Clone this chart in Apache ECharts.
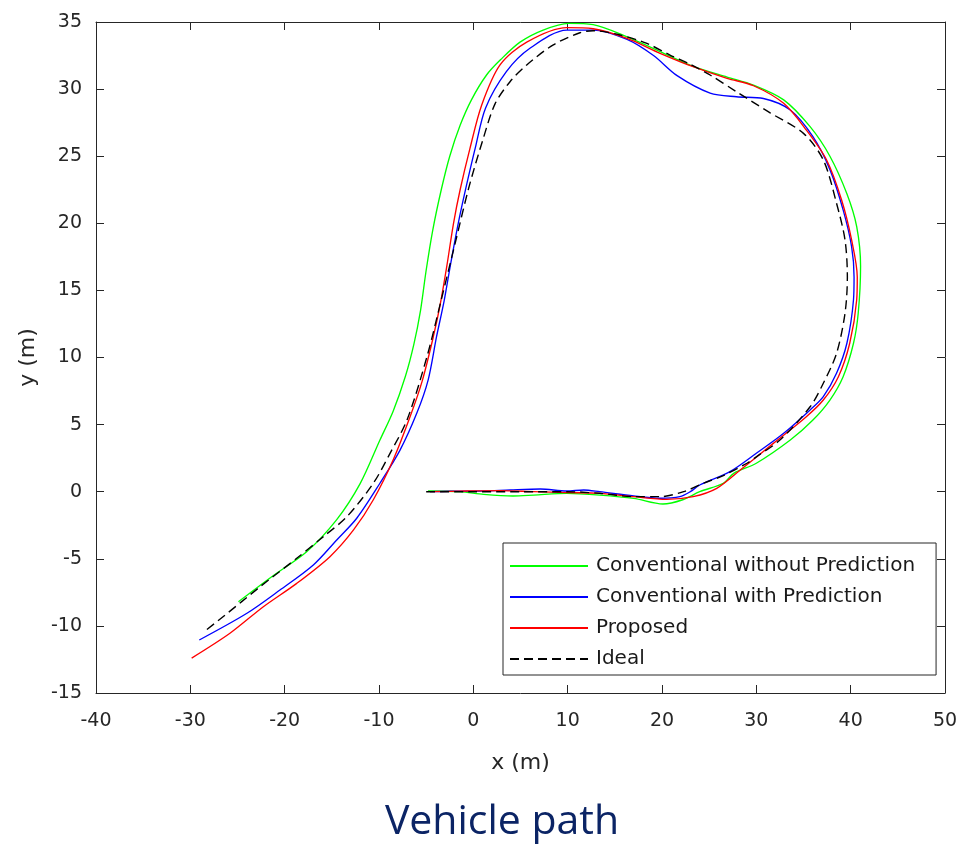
<!DOCTYPE html>
<html>
<head>
<meta charset="utf-8">
<script src="https://cdn.jsdelivr.net/npm/echarts@6/dist/echarts.min.js"></script>
<style>
  html, body { margin: 0; padding: 0; background: #ffffff; }
  #chart { width: 962px; height: 847px; }
</style>
</head>
<body>
<div id="chart"></div>
<script>
// ---- Data (x, y in metres) ----
const seriesNames = ['Conventional without Prediction', 'Conventional with Prediction', 'Proposed', 'Ideal'];

const pathNoPrediction = [
  [-4.8,0.05],[-1.4,0],[1.1,-0.2],[4.2,-0.32],[6.4,-0.25],[9.9,-0.12],[13.4,-0.25],[17,-0.5],
  [20.1,-0.92],[22.2,-0.6],[24,0],[26.5,0.63],[27.6,1.37],[30,2.12],[33.6,3.85],[36,5.34],
  [37.8,6.83],[39.2,8.57],[40.3,11.06],[40.8,13.3],[41.05,16.8],[40.64,19.75],[39.6,22.2],
  [37.8,25],[35.7,27.2],[32.9,29.2],[29.7,30.3],[26.9,30.9],[23.3,31.7],[19.8,32.8],[16.3,33.9],
  [12.7,34.8],[10.1,34.9],[7.4,34.4],[4.95,33.5],[2.9,32.2],[1.4,31.05],[-0.2,29.2],[-1.4,27.3],
  [-2.5,25.0],[-3.4,22.5],[-4.3,19.5],[-5.0,16.5],[-5.6,13.5],[-6.3,11.0],[-7.2,8.6],
  [-8.5,6.0],[-9.9,3.85],[-12,0.6],[-14.5,-2.1],[-17.7,-4.5],[-21.3,-6.3],[-24.9,-8.2]
];

const pathWithPrediction = [
  [-4.6,0],[-2.5,0.03],[1.1,0.05],[3.9,0.13],[7.1,0.2],[9.9,0.05],[11.7,0.13],[13.4,0],[17,-0.32],
  [19.8,-0.49],[21.9,-0.37],[23,0],[24,0.5],[27.2,1.49],[30,2.86],[32.9,4.35],[35.7,6.09],
  [37.1,7.08],[38.5,8.82],[39.6,11.06],[40.3,14.3],[40.36,16],[40.1,18.26],[39.2,21],[37.8,24],
  [36,26.45],[33.6,28.44],[30.75,29.3],[27.9,29.43],[25.1,29.7],[21.6,31.0],[19.1,32.5],
  [16.3,33.7],[12.7,34.4],[9.9,34.4],[6,33.04],[3.5,31.3],[1.3,28.6],[0.2,25.6],[-0.8,22.6],
  [-1.6,20],[-2.4,17],[-3.1,14.2],[-3.9,11.55],[-4.8,8.3],[-6.0,5.84],[-7.77,3.1],[-9.9,0.63],
  [-12.36,-1.98],[-14.48,-3.6],[-16.96,-5.46],[-20.5,-7.33],[-24,-9.06],[-29.05,-11.05]
];

const pathProposed = [
  [-4.6,0],[-0.7,0.05],[2.8,0.08],[6.4,0],[9.9,-0.07],[13.4,-0.12],[17,-0.37],[20.5,-0.57],
  [23.3,-0.37],[25.8,0.25],[28.3,1.62],[31.8,3.6],[35.3,5.59],[37.1,6.83],[38.7,8.57],
  [39.9,11.06],[40.64,14.3],[40.7,16],[40.1,18.76],[39.04,21.74],[37.45,24.72],[35.3,26.95],
  [32.9,28.94],[29.7,30.25],[26.9,30.8],[23.3,31.67],[19.8,32.67],[16.3,33.78],[12.7,34.5],
  [9.9,34.58],[5.66,33.5],[2.83,31.8],[0.88,28.8],[-0.35,25.6],[-1.4,22.5],[-2.1,20],
  [-2.82,16.77],[-3.5,14.0],[-4.24,11.55],[-5.4,8.3],[-6.7,5.6],[-8.48,2.4],[-10.6,-0.6],
  [-12.7,-2.85],[-15.2,-4.84],[-18.72,-6.83],[-22.26,-8.57],[-25.8,-10.55],[-29.86,-12.4]
];

const pathIdeal = [
  [-5,0],[0,0],[5,0],[9.9,0],[13.4,-0.12],[17,-0.37],[19.8,-0.37],[22.3,0],[24.4,0.63],
  [26.5,1.2],[29,2.12],[30,2.6],[32.5,3.85],[35.7,6.33],[37.1,8.08],[38.5,10.3],[39.4,13.3],
  [39.65,16],[39.4,18.76],[38.5,21.5],[37.1,24.72],[35,26.7],[31.3,28.3],[27.9,29.8],
  [25.1,31.05],[23,31.85],[20.85,32.54],[18.4,33.4],[15.55,34.03],[12.7,34.35],[11.3,34.2],
  [8.48,33.3],[5.66,31.8],[3.89,30.55],[2.3,28.9],[1.0,26.2],[-0.5,22.6],[-2.0,18.3],
  [-3.4,14.3],[-4.9,10.1],[-7.0,5.4],[-8.83,2.86],[-10.6,0.63],[-13.4,-1.86],[-15.9,-3.35],
  [-18.72,-4.96],[-22.6,-7.08],[-26.5,-9.3],[-28.4,-10.36]
];

const xTicks = { min: -40, max: 50, interval: 10 };
const yTicks = { min: -15, max: 35, interval: 5 };
const xLabel = 'x (m)';
const yLabel = 'y (m)';
const captionText = 'Vehicle path';

// ---- Styling ----
const axisColor = '#262626';
const tickFont = 'DejaVu Sans';
const seriesColors = ['#00ff00', '#0000ff', '#ff0000', '#000000'];

function axisBase(pos, ticks, showLabels, margin) {
  return {
    type: 'value',
    position: pos,
    min: ticks.min, max: ticks.max, interval: ticks.interval,
    splitLine: { show: false },
    axisLine: { show: true, onZero: false, lineStyle: { color: axisColor, width: 1 } },
    axisTick: { show: true, inside: true, length: 8, lineStyle: { color: axisColor, width: 1 } },
    axisLabel: { show: showLabels, color: axisColor, fontFamily: tickFont, fontSize: 19, margin: margin }
  };
}

const xMain = Object.assign(axisBase('bottom', xTicks, true, 19), {
  name: xLabel, nameLocation: 'middle', nameGap: 59,
  nameTextStyle: { color: axisColor, fontFamily: tickFont, fontSize: 22 }
});
const xTop = axisBase('top', xTicks, false, 8);
const yMain = Object.assign(axisBase('left', yTicks, true, 14), {
  name: yLabel, nameLocation: 'middle', nameGap: 57,
  nameTextStyle: { color: axisColor, fontFamily: tickFont, fontSize: 22 }
});
const yRight = axisBase('right', yTicks, false, 8);

const paths = [pathNoPrediction, pathWithPrediction, pathProposed, pathIdeal];

const series = paths.map((p, i) => ({
  name: seriesNames[i],
  type: 'line',
  xAxisIndex: 0, yAxisIndex: 0,
  data: p,
  showSymbol: false,
  symbol: 'none',
  smooth: 0.3,
  z: 2 + i,
  lineStyle: {
    color: seriesColors[i],
    width: i === 3 ? 1.4 : 1.35,
    type: i === 3 ? [9, 5] : 'solid'
  },
  itemStyle: { color: seriesColors[i] }
}));

const chart = echarts.init(document.getElementById('chart'), null, { renderer: 'canvas' });
chart.setOption({
  animation: false,
  backgroundColor: '#ffffff',
  grid: { left: 96, right: 17, top: 22, bottom: 154, containLabel: false },
  xAxis: [xMain, xTop],
  yAxis: [yMain, yRight],
  legend: {
    data: seriesNames,
    orient: 'vertical',
    left: 503, top: 543,
    itemWidth: 78, itemHeight: 14, itemGap: 11,
    padding: [13, 21, 6, 6],
    backgroundColor: '#ffffff',
    borderColor: axisColor, borderWidth: 1, borderRadius: 0,
    itemStyle: { opacity: 0 },
    textStyle: { color: '#1a1a1a', fontFamily: tickFont, fontSize: 20, lineHeight: 20, padding: [0, 0, 0, 3] }
  },
  graphic: [{
    type: 'text',
    x: 502,
    y: 822,
    style: {
      text: captionText,
      fill: '#0b2465',
      font: '41px "Open Sans", Lato, sans-serif',
      textAlign: 'center',
      textVerticalAlign: 'middle'
    }
  }],
  series: series
});
</script>
</body>
</html>
